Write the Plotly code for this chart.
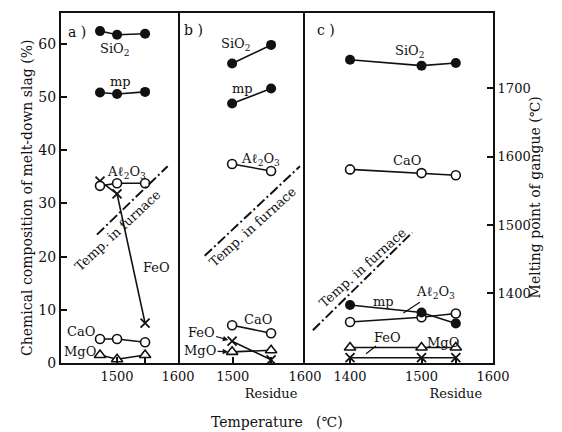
import plotly.graph_objects as go

# ---- panel a) : slag composition vs. temperature ----
a_temp = [1472, 1500, 1546]
a_sio2 = [62.4, 61.7, 61.9]
a_mp = [1694, 1692, 1695]
a_al2o3 = [33.3, 33.8, 33.8]
a_feo = [34.2, 31.8, 7.5]
a_cao = [4.5, 4.5, 3.9]
a_mgo = [1.5, 0.7, 1.5]
a_furnace_x = [1467, 1583]
a_furnace_y = [1486, 1586]
a_tickvals = [1500, 1546, 1600]
a_ticktext = ["1500", "", "1600"]

# ---- panel b) : 1500 C and residue ----
b_temp = [1499, 1553]
b_sio2 = [56.3, 59.8]
b_mp = [1678, 1700]
b_al2o3 = [37.4, 36.1]
b_cao = [7.1, 5.6]
b_feo = [4.1, 0.6]
b_mgo = [2.1, 2.4]
b_furnace_x = [1461, 1593]
b_furnace_y = [1455, 1586]
b_tickvals = [1500, 1553, 1600]
b_ticktext = ["1500", "<br>Residue", "1600"]

# ---- panel c) : 1400 C, 1500 C and residue ----
c_temp = [1400, 1500, 1548]
c_sio2 = [57.0, 55.9, 56.4]
c_cao = [36.4, 35.7, 35.3]
c_mp = [1383, 1372, 1356]
c_al2o3 = [7.7, 8.6, 9.3]
c_mgo = [2.9, 2.9, 2.9]
c_feo = [1.0, 1.0, 1.0]
c_furnace_x = [1348, 1487]
c_furnace_y = [1346, 1489]
c_tickvals = [1400, 1500, 1548, 1600]
c_ticktext = ["1400", "1500", "<br>Residue", "1600"]

pct_ticks = [0, 10, 20, 30, 40, 50, 60]
mp_ticks = [1400, 1500, 1600, 1700]

FONT = "DejaVu Serif"
INK = "#111111"

STYLES = {
    "filled": dict(symbol="circle", size=10, color=INK, line=dict(width=0)),
    "open": dict(symbol="circle", size=9, color="white", line=dict(width=1.6, color=INK)),
    "tri": dict(symbol="triangle-up", size=10, color="white", line=dict(width=1.6, color=INK)),
    "cross": dict(symbol="x-thin", size=9, color=INK, line=dict(width=1.8, color=INK)),
}

fig = go.Figure()


def series(x, y, xa, ya, style):
    fig.add_trace(go.Scatter(
        x=x, y=y, xaxis=xa, yaxis=ya, mode="lines+markers",
        line=dict(color=INK, width=1.6), marker=STYLES[style],
        hoverinfo="skip", cliponaxis=False))


def furnace(x, y, xa):
    fig.add_trace(go.Scatter(
        x=x, y=y, xaxis=xa, yaxis="y2", mode="lines",
        line=dict(color=INK, width=2, dash="10px,3px,2px,3px"),
        hoverinfo="skip"))


# panel a
furnace(a_furnace_x, a_furnace_y, "x")
series(a_temp, a_feo, "x", "y", "cross")
series(a_temp, a_al2o3, "x", "y", "open")
series(a_temp, a_sio2, "x", "y", "filled")
series(a_temp, a_mp, "x", "y2", "filled")
series(a_temp, a_cao, "x", "y", "open")
series(a_temp, a_mgo, "x", "y", "tri")

# panel b
furnace(b_furnace_x, b_furnace_y, "x2")
series(b_temp, b_sio2, "x2", "y", "filled")
series(b_temp, b_mp, "x2", "y2", "filled")
series(b_temp, b_al2o3, "x2", "y", "open")
series(b_temp, b_cao, "x2", "y", "open")
series(b_temp, b_mgo, "x2", "y", "tri")
series(b_temp, b_feo, "x2", "y", "cross")

# panel c
furnace(c_furnace_x, c_furnace_y, "x3")
series(c_temp, c_sio2, "x3", "y", "filled")
series(c_temp, c_cao, "x3", "y", "open")
series(c_temp, c_al2o3, "x3", "y", "open")
series(c_temp, c_mp, "x3", "y2", "filled")
series(c_temp, c_feo, "x3", "y", "cross")
series(c_temp, c_mgo, "x3", "y", "tri")

ann = []


def label(text, x, y, xref, yref="y", size=13, angle=0):
    ann.append(dict(text=text, x=x, y=y, xref=xref, yref=yref, showarrow=False,
                    xanchor="center", yanchor="middle", textangle=angle,
                    font=dict(family=FONT, size=size, color=INK)))


def pointer(text, x, y, xref, ax, ay, head):
    ann.append(dict(text=text, x=x, y=y, xref=xref, yref="y", showarrow=True,
                    ax=ax, ay=ay, arrowhead=head, arrowsize=0.9, arrowwidth=1.2,
                    arrowcolor=INK, standoff=4,
                    font=dict(family=FONT, size=13, color=INK)))


SUB_AL = "A\u2113<sub>2</sub>O<sub>3</sub>"
SUB_SI = "SiO<sub>2</sub>"
TEMP = "Temp. in furnace"

# panel a labels
label("a )", 1434, 62.2, "x", size=14)
label(SUB_SI, 1497, 58.9, "x")
label("mp", 1505, 52.9, "x")
label(SUB_AL, 1515, 35.9, "x")
label(TEMP, 1501, 24.9, "x", size=13, angle=-43)
label("FeO", 1564, 17.9, "x")
label("CaO", 1441, 6.0, "x")
label("MgO", 1439, 2.1, "x")

# panel b labels
label("b )", 1446, 62.6, "x2", size=14)
label(SUB_SI, 1504, 59.8, "x2")
label("mp", 1514, 51.6, "x2")
label(SUB_AL, 1538, 38.3, "x2")
label(TEMP, 1528, 25.6, "x2", size=13, angle=-42)
label("CaO", 1535, 8.2, "x2")
pointer("FeO", b_temp[0], b_feo[0], "x2", -31, -9, 2)
pointer("MgO", b_temp[0], b_mgo[0], "x2", -32, -1, 2)

# panel c labels
label("c )", 1366, 62.6, "x3", size=14)
label(SUB_SI, 1484, 58.5, "x3")
label("CaO", 1480, 38.1, "x3")
label(TEMP, 1418, 17.9, "x3", size=13, angle=-42)
label("mp", 1447, 11.6, "x3")
pointer(SUB_AL, 1470, 9.0, "x3", 35, -23, 0)
pointer("FeO", 1418, 1.3, "x3", 25, -19, 0)
label("MgO", 1530, 3.9, "x3")

# axis titles
label("Chemical composition of melt-down slag (%)", -0.0787, 0.4716, "paper",
      yref="paper", size=14, angle=-90)
label("Melting point of gangue (\u2103)", 1.0972, 0.473, "paper",
      yref="paper", size=14, angle=-90)
label("Temperature   (\u2103)", 0.5, -0.1676, "paper", yref="paper", size=14)

tickfont = dict(family=FONT, size=13, color=INK)
axis_common = dict(showline=True, linewidth=2, linecolor=INK, mirror=True,
                   ticks="inside", ticklen=6, tickwidth=1.5, tickcolor=INK,
                   showgrid=False, zeroline=False, tickfont=tickfont, tickangle=0)

fig.update_layout(
    width=562, height=432,
    margin=dict(l=61, r=69, t=11, b=69),
    paper_bgcolor="white", plot_bgcolor="white",
    showlegend=False,
    annotations=ann,
    xaxis=dict(domain=[0, 0.2708], range=[1408, 1600], anchor="y",
               tickmode="array", tickvals=a_tickvals, ticktext=a_ticktext, **axis_common),
    xaxis2=dict(domain=[0.2708, 0.5648], range=[1424, 1600], anchor="y",
                tickmode="array", tickvals=b_tickvals, ticktext=b_ticktext, **axis_common),
    xaxis3=dict(domain=[0.5648, 1], range=[1337, 1600], anchor="y",
                tickmode="array", tickvals=c_tickvals, ticktext=c_ticktext, **axis_common),
    yaxis=dict(range=[0, 65.8], anchor="x", tickmode="array", tickvals=pct_ticks,
               **{**axis_common, "tickfont": dict(family=FONT, size=14, color=INK)}),
    yaxis2=dict(range=[1298, 1810.5], anchor="x3", overlaying="y", side="right",
                tickmode="array", tickvals=mp_ticks, **axis_common),
)

fig.write_html("out.html")
